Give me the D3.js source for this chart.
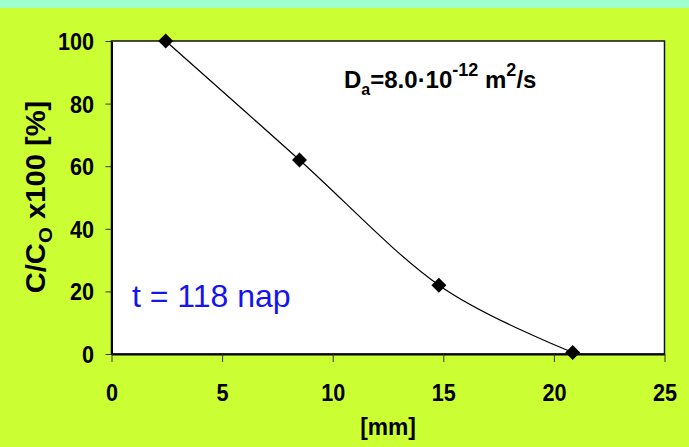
<!DOCTYPE html>
<html>
<head>
<meta charset="utf-8">
<script src="https://cdn.jsdelivr.net/npm/d3@7"></script>
<style>
  html, body { margin: 0; padding: 0; background: #ccff33; }
  svg { display: block; }
  text { font-family: "Liberation Sans", Arial, sans-serif; }
</style>
</head>
<body>
<svg id="chart" width="689" height="447"></svg>
<script>
// Distance from the surface [mm] and relative concentration C/Co x100 [%]
const distanceMm = [2.45, 8.5, 14.8, 20.85];
const concentration = [100, 62, 22, 0.5];
const xTicks = [0, 5, 10, 15, 20, 25];
const yTicks = [0, 20, 40, 60, 80, 100];

const W = 689, H = 447;
const plot = { left: 111.5, right: 664.5, top: 41, bottom: 354 };
const FONT = '"Liberation Sans", Arial, sans-serif';

const svg = d3.select("#chart");

// page background with the mint band across the top
svg.append("rect").attr("x", 0).attr("y", 0).attr("width", W).attr("height", H).attr("fill", "#ccff33");
svg.append("rect").attr("x", 0).attr("y", 0).attr("width", W).attr("height", 8).attr("fill", "#a0ffcc");

const x = d3.scaleLinear().domain([0, 25]).range([plot.left, plot.right]);
const y = d3.scaleLinear().domain([0, 100]).range([plot.bottom, plot.top]);

// white plot area with a thin frame
svg.append("rect")
  .attr("x", plot.left).attr("y", plot.top)
  .attr("width", plot.right - plot.left).attr("height", plot.bottom - plot.top)
  .attr("fill", "#ffffff").attr("stroke", "#111").attr("stroke-width", 1.5);

// axes
const xAxis = svg.append("g")
  .attr("transform", `translate(0,${plot.bottom})`)
  .call(d3.axisBottom(x).tickValues(xTicks).tickSize(8).tickSizeOuter(0));
const yAxis = svg.append("g")
  .attr("transform", `translate(${plot.left},0)`)
  .call(d3.axisLeft(y).tickValues(yTicks).tickSize(6).tickSizeOuter(0));

[xAxis, yAxis].forEach(g => {
  g.select(".domain").attr("stroke", "#000").attr("stroke-width", 2);
  g.selectAll(".tick line").attr("stroke", "#333").attr("stroke-width", 1);
  g.selectAll(".tick text")
    .attr("fill", "#000")
    .style("font-family", FONT)
    .style("font-size", "24px")
    .style("font-weight", "bold");
});

// tick labels are set in a slightly narrowed bold face
xAxis.selectAll(".tick text")
  .attr("x", 0).attr("y", 0).attr("dy", null)
  .attr("transform", "translate(0,47) scale(0.9,1)");
yAxis.selectAll(".tick text")
  .attr("x", 0).attr("y", 0).attr("dy", null)
  .attr("transform", "translate(-17.5,8.5) scale(0.9,1)");

// smoothed line through the measurements
const pts = distanceMm.map((d, i) => [x(d), y(concentration[i])]);
svg.append("path")
  .attr("d", d3.line().curve(d3.curveCardinal.tension(0))(pts))
  .attr("fill", "none").attr("stroke", "#000").attr("stroke-width", 1.2);

// diamond markers
const r = 7.5;
svg.append("g").selectAll("path").data(pts).join("path")
  .attr("d", p => `M${p[0]},${p[1] - r}L${p[0] + r},${p[1]}L${p[0]},${p[1] + r}L${p[0] - r},${p[1]}Z`)
  .attr("fill", "#000");

// axis titles
svg.append("text")
  .attr("transform", `translate(${(plot.left + plot.right) / 2},435) scale(0.95,1)`)
  .attr("text-anchor", "middle")
  .style("font-size", "24px").style("font-weight", "bold")
  .text("[mm]");

const yTitle = svg.append("text")
  .attr("transform", `translate(45,197) rotate(-90) scale(1.08,1)`)
  .attr("text-anchor", "middle")
  .style("font-size", "27px").style("font-weight", "bold");
yTitle.append("tspan").text("C/C");
yTitle.append("tspan").attr("dy", 7).style("font-size", "19px").text("O");
yTitle.append("tspan").attr("dy", -7).text(" x100 [%]");

// diffusion coefficient note
const note = svg.append("text")
  .attr("x", 344).attr("y", 87.5)
  .style("font-size", "24px").style("font-weight", "bold");
note.append("tspan").text("D");
note.append("tspan").attr("dy", 7).style("font-size", "16px").text("a");
note.append("tspan").attr("dy", -7).text("=8.0\u00b710");
note.append("tspan").attr("dy", -12).style("font-size", "18px").text("-12");
note.append("tspan").attr("dy", 12).text(" m");
note.append("tspan").attr("dy", -12).style("font-size", "18px").text("2");
note.append("tspan").attr("dy", 12).text("/s");

// elapsed time label
svg.append("text")
  .attr("x", 132).attr("y", 307)
  .attr("fill", "#1414f0")
  .style("font-size", "32px")
  .text("t = 118 nap");
</script>
</body>
</html>
